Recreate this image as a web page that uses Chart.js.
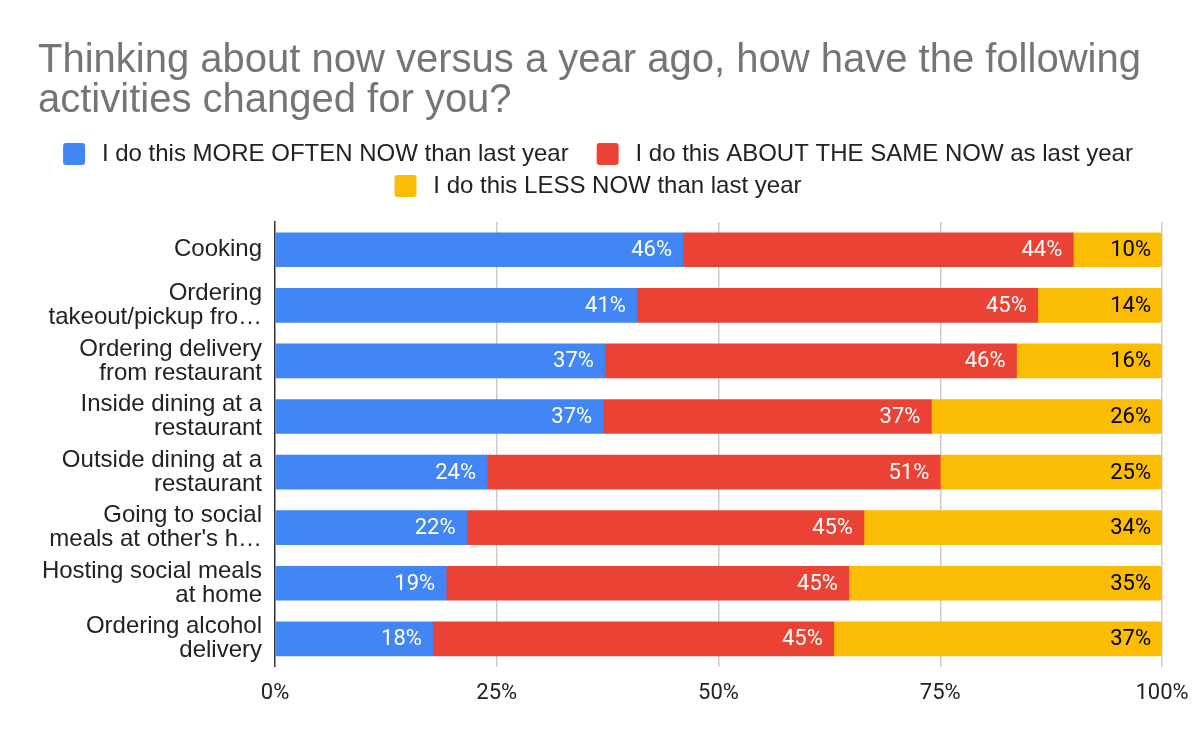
<!DOCTYPE html>
<html>
<head>
<meta charset="utf-8">
<script src="https://cdn.jsdelivr.net/npm/chart.js@4/dist/chart.umd.min.js"></script>
<style>
html,body{margin:0;padding:0;background:#fff;}
#wrap{width:1200px;height:742px;}
</style>
</head>
<body>
<div id="wrap"><canvas id="c" width="1200" height="742"></canvas></div>
<script>
const categories = [
  ["Cooking"],
  ["Ordering", "takeout/pickup fro\u2026"],
  ["Ordering delivery", "from restaurant"],
  ["Inside dining at a", "restaurant"],
  ["Outside dining at a", "restaurant"],
  ["Going to social", "meals at other's h\u2026"],
  ["Hosting social meals", "at home"],
  ["Ordering alcohol", "delivery"]
];
const seriesNames = [
  "I do this MORE OFTEN NOW than last year",
  "I do this ABOUT THE SAME NOW as last year",
  "I do this LESS NOW than last year"
];
const moreOften = [46.0, 40.8, 37.2, 37.0, 23.9, 21.6, 19.3, 17.8];
const aboutSame = [44.0, 45.2, 46.4, 37.0, 51.1, 44.8, 45.4, 45.2];
const lessNow   = [10.0, 14.0, 16.4, 26.0, 25.0, 33.6, 35.3, 37.0];
const xTicks = [0, 25, 50, 75, 100];
const colors = ["#4285f4", "#ea4335", "#fbbc04"];
const labelColors = ["#ffffff", "#ffffff", "#000000"];

const dataLabels = {
  id: 'dataLabels',
  afterDatasetsDraw(chart) {
    const ctx = chart.ctx;
    ctx.save();
    ctx.font = '22px Roboto';
    ctx.textAlign = 'right';
    ctx.textBaseline = 'middle';
    chart.data.datasets.forEach((ds, di) => {
      const meta = chart.getDatasetMeta(di);
      ctx.fillStyle = labelColors[di];
      meta.data.forEach((bar, i) => {
        const v = ds.data[i];
        ctx.fillText(Math.round(v) + '%', bar.x - 11, bar.y + 1);
      });
    });
    ctx.restore();
  }
};

const legendTweak = {
  id: 'legendTweak',
  afterInit(chart) {
    const lg = chart.legend;
    if (!lg) return;
    const orig = lg.fit.bind(lg);
    lg.fit = function () { orig(); this.height += 14; };
  },
  afterLayout(chart) {
    const lg = chart.legend;
    if (!lg) return;
    const shift = (lg.left + lg.right) / 2 - 598;
    lg.left -= shift;
    lg.right -= shift;
  }
};

new Chart(document.getElementById('c'), {
  type: 'bar',
  data: {
    labels: categories,
    datasets: [moreOften, aboutSame, lessNow].map((d, i) => ({
      label: '\u2009' + seriesNames[i] + (i === 0 ? '   ' : ''),
      data: d,
      backgroundColor: colors[i],
      barThickness: 34,
      borderWidth: 0,
      borderRadius: i === 2 ? {topRight: 3, bottomRight: 3, topLeft: 0, bottomLeft: 0} : 0,
      borderSkipped: i === 2 ? false : 'start'
    }))
  },
  options: {
    indexAxis: 'y',
    responsive: false,
    animation: false,
    devicePixelRatio: 1,
    layout: { padding: { left: 38, right: 38, top: 18, bottom: 21 } },
    scales: {
      x: {
        stacked: true,
        min: 0,
        max: 100,
        afterBuildTicks(s) { s.ticks = xTicks.map(v => ({ value: v })); },
        afterFit(s) { s.paddingRight = 0; },
        ticks: {
          callback: v => v + '%',
          font: { family: 'Roboto', size: 22 },
          color: '#222',
          padding: 14,
          maxRotation: 0
        },
        grid: {
          color: ctx => ctx.tick && ctx.tick.value === 0 ? 'rgba(0,0,0,0)' : '#cccccc',
          drawTicks: false,
          lineWidth: 1.5
        },
        border: { display: false }
      },
      y: {
        stacked: true,
        afterFit(s) { s.width = 237; },
        ticks: {
          font: { family: 'Liberation Sans', size: 24, lineHeight: 1.0 },
          color: '#222',
          padding: 5
        },
        grid: { display: false },
        border: { display: true, color: '#333', width: 1.5 }
      }
    },
    plugins: {
      title: {
        display: true,
        text: ["Thinking about now versus a year ago, how have the following", "activities changed for you?"],
        align: 'start',
        color: '#757575',
        font: { family: 'Liberation Sans', size: 40, weight: 'normal', lineHeight: 1.0 },
        padding: { top: 23, bottom: 13 }
      },
      legend: {
        display: true,
        position: 'top',
        labels: {
          boxWidth: 22,
          boxHeight: 22,
          padding: 8,
          color: '#222',
          font: { family: 'Liberation Sans', size: 24 },
          useBorderRadius: true,
          borderRadius: 3
        }
      },
      tooltip: { enabled: false }
    }
  },
  plugins: [dataLabels, legendTweak]
});
</script>
</body>
</html>
